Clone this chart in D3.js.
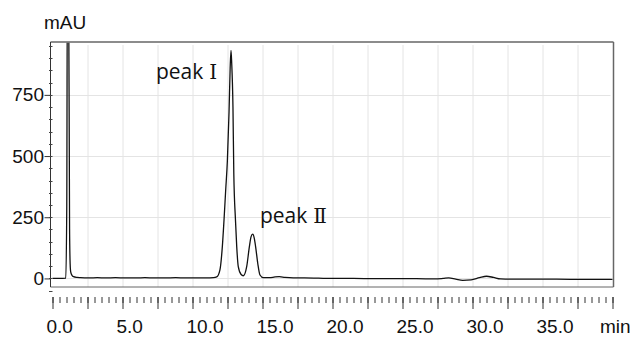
<!DOCTYPE html>
<html>
<head>
<meta charset="utf-8">
<script src="https://cdn.jsdelivr.net/npm/d3@7"></script>
<style>
    body { margin: 0; background: #fff; }
    .chart text { font-family: "Liberation Sans", Arial, sans-serif; font-size: 19px; fill: #111; }
    .chart .peak-label { font-family: "Open Sans", sans-serif; font-size: 21px; }
    .chart .numeral { font-family: "DejaVu Serif", "Liberation Serif", serif; font-size: 20px; }
</style>
</head>
<body>
<div class="chart"></div>
<script>
// retention time (min) and detector signal (mAU)
var times = [0.0, 0.5, 0.95, 1.02, 1.06, 1.15, 1.22, 1.26, 1.30, 1.40, 1.50, 1.75, 2.0, 2.6, 3.2, 3.8,
    4.5, 5.2, 6.0, 6.6, 7.3, 8.0, 8.8, 9.5, 10.2, 11.0, 11.49, 11.73, 11.96, 12.13, 12.25, 12.37,
    12.49, 12.61, 12.69, 12.75, 12.80, 12.89, 12.95, 13.07, 13.16, 13.27, 13.46, 13.63, 13.87, 14.06,
    14.18, 14.30, 14.41, 14.51, 14.66, 14.82, 15.06, 15.5, 15.9, 16.2, 16.6, 17.2, 18.0, 19.0, 20.0,
    21.5, 23.0, 24.5, 26.0, 27.3, 27.9, 28.3, 28.8, 29.3, 29.9, 30.5, 31.0, 31.5, 32.0, 33.0, 34.5,
    36.0, 38.0, 40.0];
var signal = [0, 0, 1, 300, 1200, 1200, 200, 60, 27, 12, 7, 4, 3, 2, 3, 2,
    3, 2, 2, 3, 2, 2, 3, 2, 2, 2, 3, 6, 35, 129, 238, 360,
    480, 680, 860, 932, 880, 700, 430, 238, 129, 48, 17, 11, 48, 129,
    170, 181, 165, 129, 62, 14, 3, 3, 6, 7, 4, 2, 2, 1, 0,
    0, -1, -1, -1, -2, 0, 2, -3, -8, -6, 3, 9, 4, -2, -3, -3,
    -3, -4, -4];

var yTicks = [0, 250, 500, 750];
var yMinorTicks = d3.range(-50, 951, 50);
var xMajorTicks = d3.range(0, 40.01, 2.5);
var xMinorTicks = d3.range(0, 40.01, 0.5);
var xLabelValues = [0, 5, 10, 15, 20, 25, 30, 35];
var xLabels = ["0.0", "5.0", "10.0", "15.0", "20.0", "25.0", "30.0", "35.0"];
var xGridValues = d3.range(2.5, 37.6, 2.5);

var peaks = [
    { name: "peak", numeral: "\u2160", t: 7.39, v: 813 },
    { name: "peak", numeral: "\u2161", t: 14.82, v: 226 }
];

var margin = { top: 42, right: 20.5, bottom: 50, left: 50.5 },
    width = 634 - margin.left - margin.right,
    height = 337 - margin.top - margin.bottom;

var x = d3.scaleLinear().domain([0, 40]).range([2, width - 1]);
var y = d3.scaleLinear().domain([-35, 966]).range([height, 0]);

var svg = d3.select(".chart").append("svg")
    .attr("width", 634)
    .attr("height", 337)
    .append("g")
    .attr("transform", "translate(" + margin.left + "," + margin.top + ")");

// grid
svg.selectAll(".vgrid")
    .data(xGridValues)
    .enter().append("line")
    .attr("x1", function (d) { return Math.round(x(d)) + 0.5; })
    .attr("x2", function (d) { return Math.round(x(d)) + 0.5; })
    .attr("y1", 3)
    .attr("y2", height)
    .attr("stroke", "#e4e4e4");

svg.selectAll(".hgrid")
    .data(yTicks)
    .enter().append("line")
    .attr("x1", 0)
    .attr("x2", width - 3)
    .attr("y1", function (d) { return Math.round(y(d)) + 0.5; })
    .attr("y2", function (d) { return Math.round(y(d)) + 0.5; })
    .attr("stroke", "#e4e4e4");

// trace
svg.append("clipPath").attr("id", "plot-clip")
    .append("rect").attr("x", 0).attr("y", 0.5).attr("width", width).attr("height", height);

var points = times.map(function (t, i) { return [t, signal[i]]; });

var line = d3.line()
    .x(function (d) { return x(d[0]); })
    .y(function (d) { return y(d[1]); })
    .curve(d3.curveMonotoneX);

svg.append("path")
    .datum(points)
    .attr("clip-path", "url(#plot-clip)")
    .attr("fill", "none")
    .attr("stroke", "#111")
    .attr("stroke-width", 1.3)
    .attr("d", line);

// frame
svg.append("line").attr("x1", 0).attr("x2", width).attr("y1", 0).attr("y2", 0)
    .attr("stroke", "#666").attr("stroke-width", 1.5);
svg.append("line").attr("x1", width).attr("x2", width).attr("y1", 0).attr("y2", height)
    .attr("stroke", "#666").attr("stroke-width", 1.5);
svg.append("line").attr("x1", 0).attr("x2", width).attr("y1", height).attr("y2", height)
    .attr("stroke", "#666").attr("stroke-width", 1);
svg.append("line").attr("x1", 0).attr("x2", 0).attr("y1", 0).attr("y2", height)
    .attr("stroke", "#333").attr("stroke-width", 1);

// y axis
var yAxis = d3.axisLeft(y).tickValues(yTicks).tickSize(6).tickPadding(0.5).tickSizeOuter(0);
var gy = svg.append("g").attr("class", "y axis").call(yAxis);
gy.select(".domain").remove();
gy.selectAll(".tick line").attr("stroke", "#333");

svg.selectAll(".yminor")
    .data(yMinorTicks)
    .enter().append("line")
    .attr("x1", -1.5)
    .attr("x2", 2)
    .attr("y1", function (d) { return Math.round(y(d)) + 0.5; })
    .attr("y2", function (d) { return Math.round(y(d)) + 0.5; })
    .attr("stroke", "#444");

svg.append("text")
    .attr("x", -6.5)
    .attr("y", -13)
    .text("mAU");

// x axis (separate tick ruler under the frame)
var gx = svg.append("g").attr("transform", "translate(0," + (height + 10) + ")");

gx.append("g")
    .call(d3.axisBottom(x).tickValues(xMinorTicks).tickSize(6).tickFormat(""))
    .call(function (g) { g.select(".domain").remove(); });

gx.append("g")
    .call(d3.axisBottom(x).tickValues(xMajorTicks).tickSize(12).tickFormat(""))
    .call(function (g) { g.select(".domain").remove(); });

gx.selectAll(".tick line").attr("stroke", "#333");

gx.selectAll(".xlabel")
    .data(xLabelValues)
    .enter().append("text")
    .attr("x", function (d) { return x(d) - 6; })
    .attr("y", 36)
    .text(function (d, i) { return xLabels[i]; });

gx.append("text")
    .attr("x", x(40) - 12.5)
    .attr("y", 36)
    .text("min");

// peak annotations
var labels = svg.selectAll(".peak-label")
    .data(peaks)
    .enter().append("text")
    .attr("class", "peak-label")
    .attr("x", function (d) { return x(d.t); })
    .attr("y", function (d) { return y(d.v); });

labels.append("tspan").text(function (d) { return d.name; });
labels.append("tspan")
    .attr("class", "numeral")
    .attr("dx", 6)
    .text(function (d) { return d.numeral; });
</script>
</body>
</html>
